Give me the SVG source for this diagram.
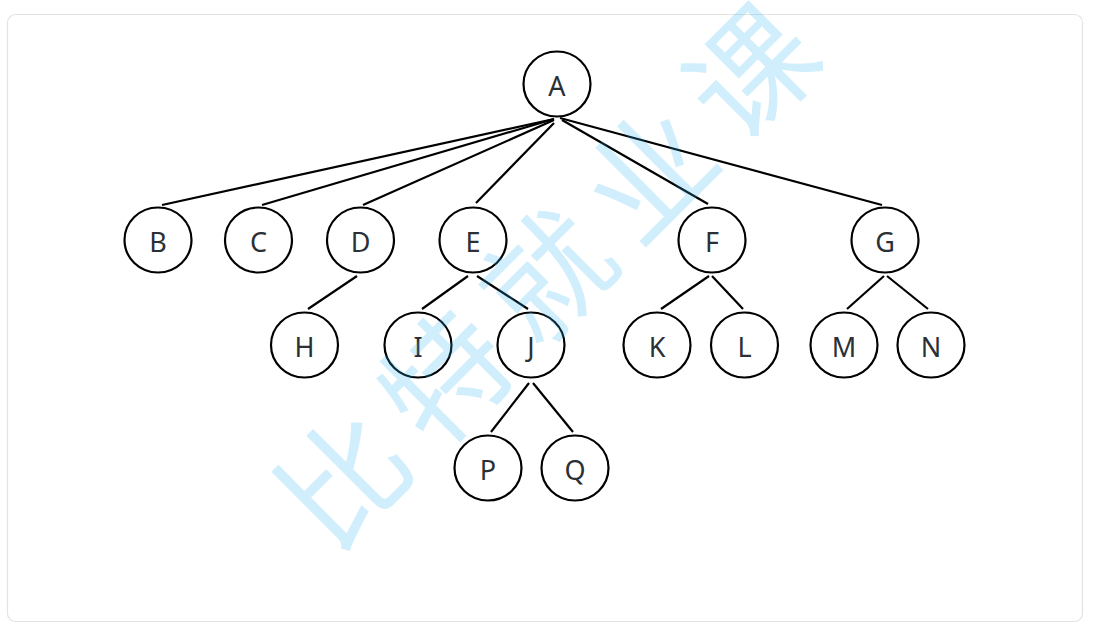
<svg xmlns="http://www.w3.org/2000/svg" width="1120" height="624" viewBox="0 0 1120 624">
<style>
.node ellipse{fill:none;stroke:#000;stroke-width:2.2}
.node text{font-family:"Noto Sans","Liberation Sans",sans-serif;font-size:27px;fill:#2b2f36;text-anchor:middle}
#edges line{stroke:#000;stroke-width:2.2;stroke-linecap:butt}
.wm{font-family:"Noto Sans CJK SC","Noto Sans CJK JP",sans-serif;font-size:124px;letter-spacing:20px;fill:#2db7f5;opacity:0.22;text-anchor:middle;dominant-baseline:central}
</style>
<rect width="1120" height="624" fill="#fff"/>
<rect x="7.5" y="14.5" width="1075" height="607" rx="8" ry="8" fill="#fff" stroke="#e3e3e3" stroke-width="1.2"/>
<g id="edges">
<line x1="554" y1="119" x2="162" y2="205"/>
<line x1="554" y1="119" x2="262" y2="205"/>
<line x1="554" y1="120" x2="363" y2="205"/>
<line x1="554" y1="123" x2="476" y2="203"/>
<line x1="562" y1="120" x2="708" y2="204"/>
<line x1="560" y1="118" x2="882" y2="205"/>
<line x1="357" y1="276" x2="308" y2="309"/>
<line x1="468" y1="276" x2="422" y2="309"/>
<line x1="477" y1="276" x2="528" y2="309"/>
<line x1="529" y1="383" x2="491" y2="432"/>
<line x1="533" y1="383" x2="573" y2="432"/>
<line x1="709" y1="276" x2="661" y2="309"/>
<line x1="712" y1="276" x2="743" y2="309"/>
<line x1="884" y1="276" x2="847" y2="309"/>
<line x1="887" y1="276" x2="928" y2="309"/>
</g>
<g id="node-A" class="node"><ellipse cx="557" cy="84" rx="33.5" ry="32.5"/><text x="557" y="96">A</text></g>
<g id="node-B" class="node"><ellipse cx="158" cy="240" rx="33.5" ry="32.5"/><text x="158" y="252">B</text></g>
<g id="node-C" class="node"><ellipse cx="258.5" cy="240" rx="33.5" ry="32.5"/><text x="258.5" y="252">C</text></g>
<g id="node-D" class="node"><ellipse cx="360.5" cy="240" rx="33.5" ry="32.5"/><text x="360.5" y="252">D</text></g>
<g id="node-E" class="node"><ellipse cx="473" cy="240" rx="33.5" ry="32.5"/><text x="473" y="252">E</text></g>
<g id="node-F" class="node"><ellipse cx="712" cy="240" rx="33.5" ry="32.5"/><text x="712" y="252">F</text></g>
<g id="node-G" class="node"><ellipse cx="885" cy="240" rx="33.5" ry="32.5"/><text x="885" y="252">G</text></g>
<g id="node-H" class="node"><ellipse cx="304.5" cy="345" rx="33.5" ry="32.5"/><text x="304.5" y="357">H</text></g>
<g id="node-I" class="node"><ellipse cx="418" cy="345" rx="33.5" ry="32.5"/><text x="418" y="357">I</text></g>
<g id="node-J" class="node"><ellipse cx="531" cy="345" rx="33.5" ry="32.5"/><text x="531" y="357">J</text></g>
<g id="node-K" class="node"><ellipse cx="657" cy="345" rx="33.5" ry="32.5"/><text x="657" y="357">K</text></g>
<g id="node-L" class="node"><ellipse cx="744.5" cy="345" rx="33.5" ry="32.5"/><text x="744.5" y="357">L</text></g>
<g id="node-M" class="node"><ellipse cx="844" cy="345" rx="33.5" ry="32.5"/><text x="844" y="357">M</text></g>
<g id="node-N" class="node"><ellipse cx="931" cy="345" rx="33.5" ry="32.5"/><text x="931" y="357">N</text></g>
<g id="node-P" class="node"><ellipse cx="488" cy="468" rx="33.5" ry="32.5"/><text x="488" y="480">P</text></g>
<g id="node-Q" class="node"><ellipse cx="575" cy="468" rx="33.5" ry="32.5"/><text x="575" y="480">Q</text></g>
<text class="wm" x="552" y="270" transform="rotate(-45 542 270)">比特就业课</text>
</svg>
